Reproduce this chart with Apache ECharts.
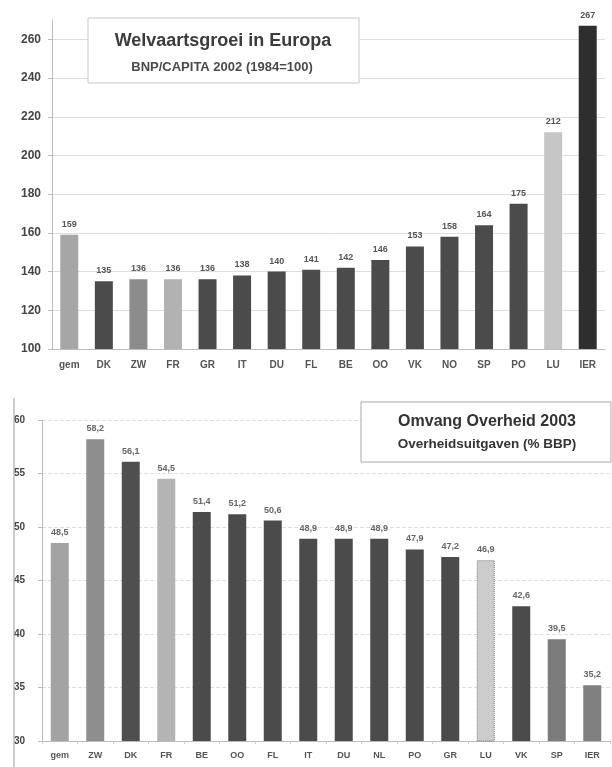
<!DOCTYPE html>
<html><head><meta charset="utf-8">
<script src="https://cdn.jsdelivr.net/npm/echarts@6/dist/echarts.min.js"></script>
<style>html,body{margin:0;padding:0;background:#fff}#c{width:612px;height:767px}</style>
</head><body><div id="c"></div>
<script>
// Top chart data
const topCats = ['gem','DK','ZW','FR','GR','IT','DU','FL','BE','OO','VK','NO','SP','PO','LU','IER'];
const topVals = [159,135,136,136,136,138,140,141,142,146,153,158,164,175,212,267];
const topColors = ['#a6a6a6','#4b4b4b','#8c8c8c','#b2b2b2','#4b4b4b','#4b4b4b','#4b4b4b','#4b4b4b','#4b4b4b','#4b4b4b','#4b4b4b','#4b4b4b','#4b4b4b','#4b4b4b','#c6c6c6','#2e2e2e'];
// Bottom chart data
const botCats = ['gem','ZW','DK','FR','BE','OO','FL','IT','DU','NL','PO','GR','LU','VK','SP','IER'];
const botVals = [48.5,58.2,56.1,54.5,51.4,51.2,50.6,48.9,48.9,48.9,47.9,47.2,46.9,42.6,39.5,35.2];
const botColors = ['#a3a3a3','#8e8e8e','#4f4f4f','#b4b4b4','#4b4b4b','#4b4b4b','#4b4b4b','#4b4b4b','#4b4b4b','#4b4b4b','#4b4b4b','#4b4b4b','#cccccc','#4b4b4b','#7c7c7c','#808080'];

const chart = echarts.init(document.getElementById('c'));
const font = 'Liberation Sans, Arial, sans-serif';
chart.setOption({
  animation: false,
  grid: [
    {left: 52, right: 7, top: 20, height: 329},
    {left: 42, right: 2, top: 420, height: 321}
  ],
  xAxis: [
    {gridIndex: 0, type: 'category', data: topCats,
     axisLine: {lineStyle: {color: '#bbb'}}, axisTick: {show: false},
     axisLabel: {color: '#555', fontSize: 10, fontWeight: 'bold', fontFamily: font, margin: 11}},
    {gridIndex: 1, type: 'category', data: botCats,
     axisLine: {lineStyle: {color: '#bbb'}}, axisTick: {show: true, lineStyle: {color: '#ccc'}, length: 3},
     axisLabel: {color: '#555', fontSize: 9, fontWeight: 'bold', fontFamily: font, margin: 10}}
  ],
  yAxis: [
    {gridIndex: 0, type: 'value', min: 100, max: 270, interval: 20,
     axisLine: {show: true, lineStyle: {color: '#bbb'}},
     axisTick: {show: true, length: 4, lineStyle: {color: '#bbb'}},
     splitLine: {lineStyle: {color: '#dedede'}, showMaxLine: false},
     axisLabel: {color: '#444', fontSize: 12, fontWeight: 'bold', fontFamily: font, showMaxLabel: false, margin: 11}},
    {gridIndex: 1, type: 'value', min: 30, max: 60, interval: 5,
     axisLine: {show: true, lineStyle: {color: '#bbb'}},
     axisTick: {show: true, length: 4, lineStyle: {color: '#bbb'}},
     splitLine: {lineStyle: {color: '#dedede', type: 'dashed'}},
     axisLabel: {color: '#444', fontSize: 10, fontWeight: 'bold', fontFamily: font, align: 'left', margin: 28}}
  ],
  series: [
    {type: 'bar', xAxisIndex: 0, yAxisIndex: 0, barWidth: 18,
     data: topVals.map((v, i) => ({value: v, itemStyle: {color: topColors[i]}})),
     label: {show: true, position: 'top', distance: 6, color: '#555', fontSize: 9, fontWeight: 'bold', fontFamily: font}},
    {type: 'bar', xAxisIndex: 1, yAxisIndex: 1, barWidth: 18,
     data: botVals.map((v, i) => ({value: v, itemStyle: i === 12 ? {color: botColors[i], borderColor: '#777', borderType: 'dotted', borderWidth: 1} : {color: botColors[i]}})),
     label: {show: true, position: 'top', distance: 6, color: '#666', fontSize: 9, fontWeight: 'bold', fontFamily: font,
       formatter: p => p.value.toFixed(1).replace('.', ',')}}
  ],
  graphic: [
    {type: 'rect', shape: {x: 88, y: 18, width: 271, height: 65}, style: {fill: '#fff', stroke: '#c8c8c8', lineWidth: 1}, z: 100},
    {type: 'text', x: 223, y: 41, style: {text: 'Welvaartsgroei in Europa', fill: '#3c3c3c', font: 'bold 18px ' + font, textAlign: 'center', textVerticalAlign: 'middle'}, z: 101},
    {type: 'text', x: 222, y: 67, style: {text: 'BNP/CAPITA 2002 (1984=100)', fill: '#4a4a4a', font: 'bold 13px ' + font, textAlign: 'center', textVerticalAlign: 'middle'}, z: 101},
    {type: 'rect', shape: {x: 361, y: 402, width: 250, height: 60}, style: {fill: '#fff', stroke: '#aaa', lineWidth: 1}, z: 100},
    {type: 'text', x: 487, y: 422, style: {text: 'Omvang Overheid 2003', fill: '#333', font: 'bold 16px ' + font, textAlign: 'center', textVerticalAlign: 'middle'}, z: 101},
    {type: 'text', x: 487, y: 444, style: {text: 'Overheidsuitgaven (% BBP)', fill: '#333', font: 'bold 13.5px ' + font, textAlign: 'center', textVerticalAlign: 'middle'}, z: 101},
    {type: 'line', shape: {x1: 14, y1: 398, x2: 14, y2: 767}, style: {stroke: '#999', lineWidth: 1}, z: 100}
  ]
});
</script></body></html>
